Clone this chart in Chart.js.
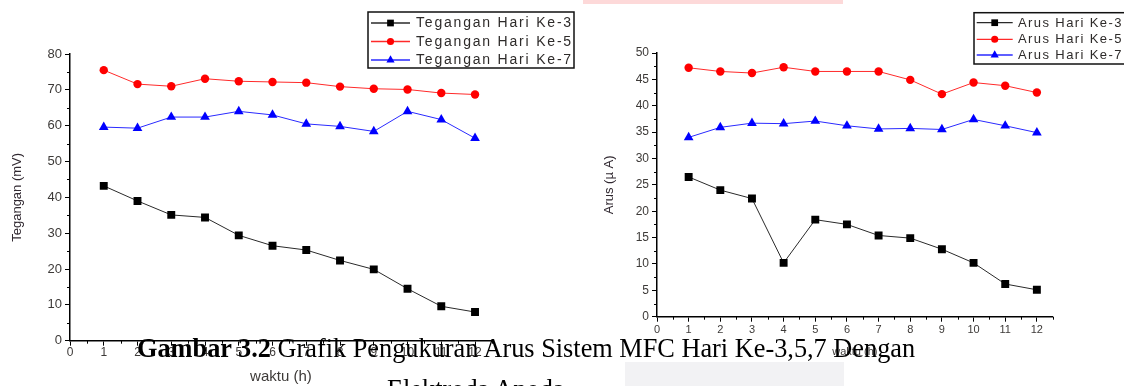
<!DOCTYPE html>
<html>
<head>
<meta charset="utf-8">
<script src="https://cdn.jsdelivr.net/npm/chart.js@4.4.1/dist/chart.umd.min.js"></script>
<style>
  html, body { margin: 0; padding: 0; background: #fff; }
  body { width: 1124px; height: 386px; overflow: hidden; position: relative; }
  #wrap1 { position: absolute; left: 0; top: 0; width: 590px; height: 386px; }
  #wrap2 { position: absolute; left: 590px; top: 0; width: 534px; height: 386px; }
  .band-top { position: absolute; left: 583px; top: 0; width: 260px; height: 4px; background: #fdd9d9; }
  .band-bottom { position: absolute; left: 625px; top: 362px; width: 219px; height: 24px; background: #f2f2f4; }
  .cap { position: absolute; font-family: "Liberation Serif", "Times New Roman", serif; font-size: 26.3px;
         line-height: 26px; color: #000; white-space: nowrap; }
</style>
</head>
<body>
<div class="band-top"></div>
<div id="wrap1"><canvas id="chartTegangan" width="590" height="386"></canvas></div>
<div id="wrap2"><canvas id="chartArus" width="534" height="386"></canvas></div>
<div class="band-bottom"></div>
<div class="cap" style="left:137px; top:336px;"><b>Gambar 3.2</b> Grafik Pengukuran Arus Sistem MFC Hari Ke-3,5,7 Dengan</div>
<div class="cap" style="left:387px; top:377px;">Elektroda Anoda</div>

<script>
// Measurement hours (x values)
const hours = [1, 2, 3, 4, 5, 6, 7, 8, 9, 10, 11, 12];

// Voltage (mV)
const teganganKe3 = [43.2, 39.0, 35.1, 34.4, 29.4, 26.5, 25.3, 22.4, 19.9, 14.5, 9.6, 8.0];
const teganganKe5 = [75.5, 71.6, 71.0, 73.1, 72.4, 72.2, 72.0, 70.9, 70.3, 70.1, 69.1, 68.7];
const teganganKe7 = [59.6, 59.3, 62.4, 62.4, 64.0, 63.0, 60.5, 59.8, 58.4, 64.0, 61.7, 56.5];

// Current (µA)
const arusKe3 = [26.5, 24.0, 22.4, 10.2, 18.4, 17.5, 15.4, 14.9, 12.8, 10.2, 6.2, 5.1];
const arusKe5 = [47.2, 46.5, 46.2, 47.3, 46.5, 46.5, 46.5, 44.9, 42.2, 44.4, 43.8, 42.5];
const arusKe7 = [34.0, 35.9, 36.7, 36.6, 37.1, 36.2, 35.6, 35.7, 35.5, 37.4, 36.2, 34.9];

// Series labels
const teganganLabels = ['Tegangan Hari Ke-3', 'Tegangan Hari Ke-5', 'Tegangan Hari Ke-7'];
const arusLabels = ['Arus Hari Ke-3', 'Arus Hari Ke-5', 'Arus Hari Ke-7'];

// Axis ranges / tick steps
const xRange = [0, 12.5];
const teganganRange = [0, 80], teganganStep = 10;
const arusRange = [0, 50], arusStep = 5;

Chart.defaults.font.family = '"Liberation Sans", Arial, sans-serif';
Chart.defaults.animation = false;

const tickColor = '#3d3a38';
const seriesStyles = [
  { color: '#000000', line: '#2a2a2a', pointStyle: 'rect', radius: 5.6 },
  { color: '#ff0000', line: '#ff2a2a', pointStyle: 'circle', radius: 4.2 },
  { color: '#0000ff', line: '#2a2aff', pointStyle: 'triangle', radius: 5.6 }
];

function toPoints(ys) { return hours.map((h, i) => ({ x: h, y: ys[i] })); }

function makeDatasets(labels, series) {
  return series.map((ys, i) => ({
    label: labels[i],
    data: toPoints(ys),
    borderColor: seriesStyles[i].line,
    backgroundColor: seriesStyles[i].color,
    pointBackgroundColor: seriesStyles[i].color,
    pointBorderColor: seriesStyles[i].color,
    pointStyle: seriesStyles[i].pointStyle,
    pointRadius: seriesStyles[i].radius,
    pointBorderWidth: 0,
    borderWidth: 1,
    tension: 0
  }));
}

// Minor ticks and a framed legend in the plot corner
const originStyle = {
  id: 'originStyle',
  afterDraw(chart, args, opts) {
    const ctx = chart.ctx;
    const xs = chart.scales.x, ys = chart.scales.y;
    ctx.save();
    ctx.strokeStyle = '#000';
    ctx.lineWidth = 1;
    for (let v = opts.xMinorStart; v <= xs.max + 1e-9; v += opts.xMinorStep) {
      const px = Math.round(xs.getPixelForValue(v)) + 0.5;
      ctx.beginPath(); ctx.moveTo(px, xs.top); ctx.lineTo(px, xs.top + 3); ctx.stroke();
    }
    for (let v = opts.yMinorStart; v <= ys.max + 1e-9; v += opts.yMinorStep) {
      const py = Math.round(ys.getPixelForValue(v)) + 0.5;
      ctx.beginPath(); ctx.moveTo(ys.right, py); ctx.lineTo(ys.right - 3, py); ctx.stroke();
    }

    const L = opts.legend;
    ctx.fillStyle = '#fff';
    ctx.fillRect(L.x, L.y, L.w, L.h);
    ctx.lineWidth = 1.5;
    ctx.strokeStyle = '#111';
    ctx.strokeRect(L.x, L.y, L.w, L.h);
    ctx.font = L.font;
    ctx.textBaseline = 'middle';
    ctx.textAlign = 'left';
    if ('letterSpacing' in ctx) ctx.letterSpacing = L.spacing;
    chart.data.datasets.forEach((ds, i) => {
      const y = L.rows[i];
      ctx.strokeStyle = ds.borderColor;
      ctx.lineWidth = 1.3;
      ctx.beginPath(); ctx.moveTo(L.lineX0, y); ctx.lineTo(L.lineX1, y); ctx.stroke();
      ctx.fillStyle = ds.pointBackgroundColor;
      ctx.strokeStyle = ds.pointBorderColor;
      Chart.helpers.drawPoint(ctx, { pointStyle: ds.pointStyle, radius: ds.pointRadius * 0.85, rotation: 0, borderWidth: 0 },
        (L.lineX0 + L.lineX1) / 2, y);
      ctx.fillStyle = '#2e2b2a';
      ctx.fillText(ds.label, L.textX, y + 0.5);
    });
    ctx.restore();
  }
};

function makeChart(canvasId, labels, series, cfg) {
  return new Chart(document.getElementById(canvasId), {
    type: 'line',
    data: { datasets: makeDatasets(labels, series) },
    plugins: [originStyle],
    options: {
      responsive: false,
      layout: { padding: cfg.padding },
      plugins: {
        legend: { display: false },
        tooltip: { enabled: false },
        originStyle: cfg.style
      },
      scales: {
        x: {
          type: 'linear',
          min: xRange[0], max: xRange[1],
          ticks: { stepSize: 1, includeBounds: false, color: tickColor, font: { size: cfg.xTickSize }, padding: cfg.xTickPad, maxRotation: 0 },
          grid: { display: true, drawOnChartArea: false, drawTicks: true, tickLength: 5, color: '#000', lineWidth: 1 },
          border: { display: true, color: '#000', width: 1.5 },
          title: { display: true, text: 'waktu (h)', color: tickColor, font: { size: cfg.xTitleSize }, padding: { top: 0, bottom: cfg.xTitlePad } },
          afterFit(s) { s.height = cfg.xHeight; }
        },
        y: {
          type: 'linear',
          min: cfg.yRange[0], max: cfg.yRange[1],
          ticks: { stepSize: cfg.yStep, color: tickColor, font: { size: cfg.yTickSize }, padding: 3 },
          grid: { display: true, drawOnChartArea: false, drawTicks: true, tickLength: 5, color: '#000', lineWidth: 1 },
          border: { display: true, color: '#000', width: 1.5 },
          title: { display: true, text: cfg.yTitle, color: '#302830', font: { size: cfg.yTitleSize }, padding: { top: cfg.yTitlePad, bottom: 0 } },
          afterFit(s) { s.width = cfg.yWidth; }
        }
      }
    }
  });
}

makeChart('chartTegangan', teganganLabels, [teganganKe3, teganganKe5, teganganKe7], {
  padding: { left: 0, top: 54, right: 98.1, bottom: 0 },
  yRange: teganganRange, yStep: teganganStep,
  yTitle: 'Tegangan (mV)', yTitleSize: 13, yTitlePad: 9.5, yWidth: 70, yTickSize: 13,
  xHeight: 45.3, xTickSize: 12, xTickPad: 0, xTitleSize: 15, xTitlePad: 0.5,
  style: {
    xMinorStart: 0.5, xMinorStep: 1, yMinorStart: 5, yMinorStep: 10,
    legend: { x: 368, y: 12, w: 206, h: 56, rows: [23, 41.5, 60], lineX0: 371, lineX1: 410, textX: 416,
              font: '14px "Liberation Sans", Arial, sans-serif', spacing: '1.8px' }
  }
});

makeChart('chartArus', arusLabels, [arusKe3, arusKe5, arusKe7], {
  padding: { left: 0, top: 53, right: 71.3, bottom: 0 },
  yRange: arusRange, yStep: arusStep,
  yTitle: 'Arus (\u00b5 A)', yTitleSize: 13, yTitlePad: 12, yWidth: 67, yTickSize: 12,
  xHeight: 69.3, xTickSize: 11, xTickPad: 2, xTitleSize: 11, xTitlePad: 27.4,
  style: {
    xMinorStart: 0.5, xMinorStep: 1, yMinorStart: 2.5, yMinorStep: 5,
    legend: { x: 384, y: 12.7, w: 170, h: 51.3, rows: [22.7, 39.3, 55], lineX0: 386.7, lineX1: 422.7, textX: 428,
              font: '13px "Liberation Sans", Arial, sans-serif', spacing: '1.4px' }
  }
});
</script>
</body>
</html>
